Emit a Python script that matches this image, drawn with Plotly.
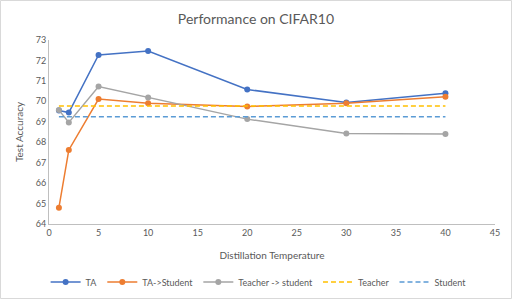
import plotly.graph_objects as go

temps = [1, 2, 5, 10, 20, 30, 40]
ta = [69.55, 69.45, 72.27, 72.46, 70.58, 69.94, 70.4]
ta_student = [64.8, 67.62, 70.11, 69.91, 69.75, 69.91, 70.23]
teacher_student = [69.57, 68.97, 70.72, 70.19, 69.13, 68.43, 68.4]
teacher_x = [1, 40]
teacher_val = [69.77, 69.77]
student_val = [69.24, 69.24]

FONT = "Lato, Open Sans, sans-serif"
fig = go.Figure()
fig.add_trace(go.Scatter(x=temps, y=ta, name="TA", mode="lines+markers",
                         line=dict(color="#4472C4", width=1.5), marker=dict(size=6)))
fig.add_trace(go.Scatter(x=temps, y=ta_student, name="TA->Student", mode="lines+markers",
                         line=dict(color="#ED7D31", width=1.5), marker=dict(size=6)))
fig.add_trace(go.Scatter(x=temps, y=teacher_student, name="Teacher -> student", mode="lines+markers",
                         line=dict(color="#A5A5A5", width=1.5), marker=dict(size=6)))
fig.add_trace(go.Scatter(x=teacher_x, y=teacher_val, name="Teacher", mode="lines",
                         line=dict(color="#FFC000", width=1.5, dash="5px,3px")))
fig.add_trace(go.Scatter(x=teacher_x, y=student_val, name="Student", mode="lines",
                         line=dict(color="#5B9BD5", width=1.5, dash="5px,3px")))

fig.update_layout(
    width=512, height=299,
    margin=dict(l=49, r=17, t=40, b=75, autoexpand=False),
    paper_bgcolor="white", plot_bgcolor="white",
    font=dict(family=FONT, color="#595959", size=9),
    title=dict(text="Performance on CIFAR10", x=0.5, xanchor="center",
               yref="container", y=1 - 19 / 299, yanchor="middle",
               font=dict(size=14, color="#595959", family=FONT)),
    legend=dict(orientation="h", x=0.47, xanchor="center", yref="container",
                y=(299 - 282) / 299, yanchor="middle",
                font=dict(size=9, color="#595959"), itemwidth=30,
                entrywidth=0, tracegroupgap=0),
    shapes=[dict(type="rect", xref="paper", yref="paper", x0=-48.5 / 446, x1=1 + 16.5 / 446,
                 y0=-74.5 / 184, y1=1 + 39.5 / 184, line=dict(color="#D9D9D9", width=1))],
)
fig.update_xaxes(range=[0, 45], tickmode="linear", tick0=0, dtick=5, showgrid=False, zeroline=False,
                 showline=True, linecolor="#BFBFBF", linewidth=1, ticks="", automargin=False,
                 title=dict(text="Distillation Temperature", font=dict(size=10, color="#595959"), standoff=15),
                 tickfont=dict(size=9, color="#595959"))
fig.update_yaxes(range=[64, 73], tickmode="linear", tick0=64, dtick=1, showgrid=False, zeroline=False,
                 showline=True, linecolor="#BFBFBF", linewidth=1, ticks="", automargin=False,
                 title=dict(text="Test Accuracy", font=dict(size=10, color="#595959"), standoff=10),
                 tickfont=dict(size=9, color="#595959"))
fig.write_html("out.html", config={"displayModeBar": False},
               post_script="document.body.style.margin='0';document.body.style.overflow='hidden';")
